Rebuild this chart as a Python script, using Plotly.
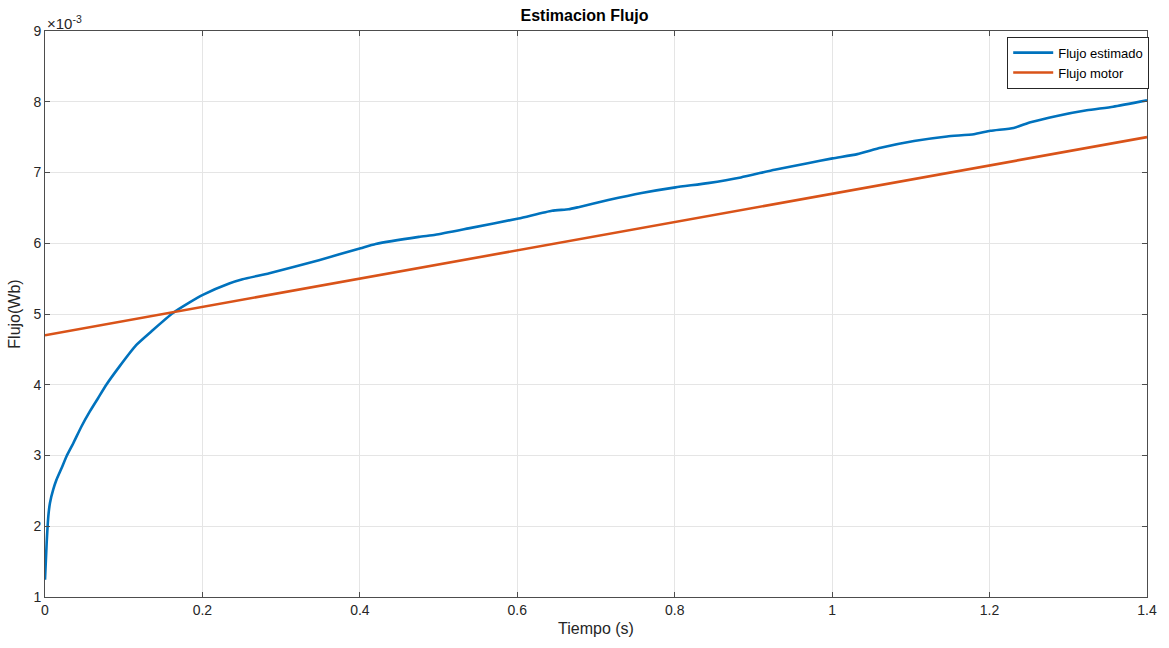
import plotly.graph_objects as go

# Data (values in units of 1e-3 Wb)
t_est = [0.0, 0.0021, 0.0042, 0.0063, 0.0105, 0.0147, 0.021, 0.0274, 0.0358, 0.0463,
         0.0568, 0.0674, 0.0779, 0.0947, 0.1158, 0.1368, 0.1621, 0.1832, 0.2005, 0.234,
         0.251, 0.285, 0.348, 0.401, 0.420, 0.475, 0.496,
         0.538, 0.6016, 0.644, 0.665, 0.6776, 0.7156, 0.758, 0.801, 0.842, 0.884, 0.927,
         0.969, 1.0005, 1.032, 1.0617, 1.104, 1.146, 1.18, 1.201, 1.2306, 1.252, 1.2855,
         1.3235, 1.357, 1.4]
flujo_est = [1.245, 1.76, 2.14, 2.33, 2.52, 2.66, 2.82, 2.99, 3.17, 3.41,
             3.62, 3.81, 4.00, 4.26, 4.56, 4.77, 5.01, 5.16, 5.27, 5.43,
             5.49, 5.575, 5.76, 5.93, 5.99, 6.09, 6.12,
             6.21, 6.35, 6.46, 6.48, 6.51, 6.61, 6.71, 6.79, 6.85, 6.93, 7.04,
             7.13, 7.20, 7.26, 7.35, 7.445, 7.51, 7.54, 7.59, 7.63, 7.71, 7.80,
             7.88, 7.93, 8.02]
t_motor = [0.0, 1.4]
flujo_motor = [4.7, 7.5]

x_ticks = [0, 0.2, 0.4, 0.6, 0.8, 1.0, 1.2, 1.4]
x_ticklabels = ["0", "0.2", "0.4", "0.6", "0.8", "1", "1.2", "1.4"]
y_ticks = [1, 2, 3, 4, 5, 6, 7, 8, 9]

FONT = "Liberation Sans, Arial, Helvetica, sans-serif"
TXT = "#262626"

fig = go.Figure()
fig.add_trace(go.Scatter(x=t_est, y=flujo_est, mode="lines", name="Flujo estimado",
                         line=dict(color="#0072BD", width=2.6, shape="spline", smoothing=0.5)))
fig.add_trace(go.Scatter(x=t_motor, y=flujo_motor, mode="lines", name="Flujo motor",
                         line=dict(color="#D95319", width=2.6)))

axis_common = dict(showgrid=True, gridcolor="#e5e5e5", gridwidth=1,
                   showline=True, linecolor="#4d4d4d", linewidth=1, mirror="ticks",
                   ticks="inside", ticklen=5, tickcolor="#4d4d4d",
                   zeroline=False, tickfont=dict(family=FONT, size=14, color=TXT))

fig.update_layout(
    width=1169, height=648,
    margin=dict(l=45, r=19, t=31, b=51),
    paper_bgcolor="white", plot_bgcolor="white",
    title=dict(text="<b>Estimacion Flujo</b>", x=0.5, xanchor="center", y=0.985, yanchor="top",
               font=dict(family=FONT, size=16, color="black")),
    xaxis=dict(range=[0, 1.4], tickvals=x_ticks, ticktext=x_ticklabels,
               title=dict(text="Tiempo (s)", font=dict(family=FONT, size=16, color=TXT), standoff=6),
               **axis_common),
    yaxis=dict(range=[1, 9], tickvals=y_ticks,
               title=dict(text="Flujo(Wb)", font=dict(family=FONT, size=16, color=TXT), standoff=8),
               **axis_common),
    legend=dict(x=1.002, y=0.99, xanchor="right", yanchor="top",
                bgcolor="white", bordercolor="#262626", borderwidth=1,
                font=dict(family=FONT, size=13, color="black"),
                tracegroupgap=0, itemwidth=40),
    showlegend=True,
)
fig.add_annotation(x=0, y=1, xref="paper", yref="paper", xanchor="left", yanchor="bottom",
                   text="×10<sup>-3</sup>", showarrow=False, xshift=0, yshift=-3,
                   font=dict(family=FONT, size=15, color=TXT))

fig.write_html("out.html")
